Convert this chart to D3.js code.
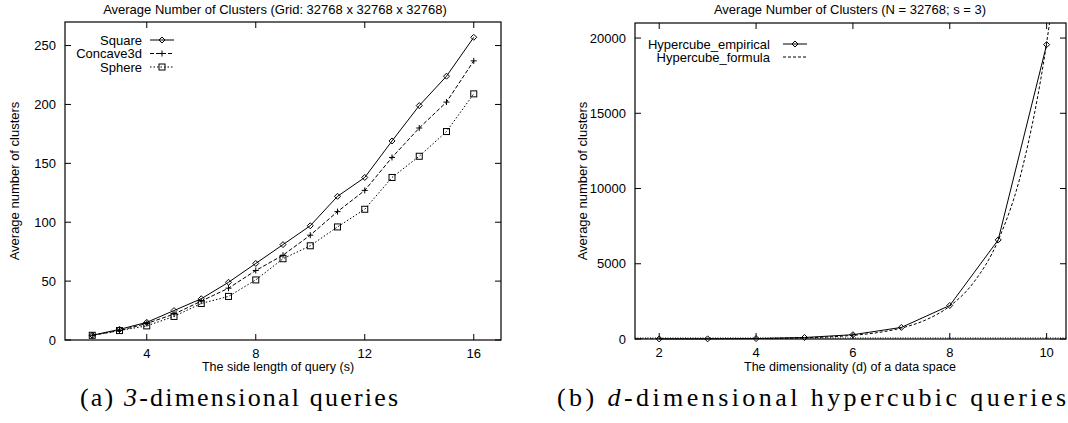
<!DOCTYPE html>
<html><head><meta charset="utf-8">
<script src="https://cdn.jsdelivr.net/npm/d3@7"></script>
<style>
body{margin:0;background:#fff;}
svg{display:block;}
text{font-family:"Liberation Sans",Arial,sans-serif;fill:#000;}
.cap{font-family:"Liberation Serif","DejaVu Serif",serif;}
</style></head>
<body><svg id="c" width="1068" height="423"></svg>
<script>
// ---- data: chart (a) ----
const sideLength = [2,3,4,5,6,7,8,9,10,11,12,13,14,15,16];
const squareVals = [4,9,15,25,35,49,65,81,97,122,138,169,199,224,257];
const concaveVals = [4,8,14,22,33,44,59,72,89,109,127,155,180,202,237];
const sphereVals = [4,8,12,20,31,37,51,69,80,96,111,138,156,177,209];
const xTicksA = [4,8,12,16];
const yTicksA = [0,50,100,150,200,250];
// ---- data: chart (b) ----
const dims = [2,3,4,5,6,7,8,9,10];
const empiricalVals = [4,10,30,100,285,770,2228,6585,19562];
const formulaD = [1.5,2,2.5,3,3.5,4,4.5,5,5.5,6,6.5,7,7.5,8,8.5,9,9.5,10,10.06,10.2];
const formulaVals = [2,3,5,9,16,27,47,81,140,243,421,729,1263,2187,3788,6561,11364,19683,21000,24500];
const xTicksB = [2,4,6,8,10];
const yTicksB = [0,5000,10000,15000,20000];

const svg = d3.select("#c");
const FS = 13;

function frame(g, x, y, xt, yt, tl){
  const [x0,x1] = x.range(), [y1,y0] = y.range();
  g.append("rect").attr("x",x0).attr("y",y0).attr("width",x1-x0).attr("height",y1-y0)
    .attr("fill","none").attr("stroke","#000").attr("stroke-width",1.2);
  xt.forEach(v=>{
    g.append("line").attr("x1",x(v)).attr("x2",x(v)).attr("y1",y1).attr("y2",y1-tl).attr("stroke","#000");
    g.append("line").attr("x1",x(v)).attr("x2",x(v)).attr("y1",y0).attr("y2",y0+tl).attr("stroke","#000");
    g.append("text").attr("x",x(v)).attr("y",y1+18).attr("text-anchor","middle").attr("font-size",FS).text(v);
  });
  yt.forEach(v=>{
    g.append("line").attr("x1",x0).attr("x2",x0+tl).attr("y1",y(v)).attr("y2",y(v)).attr("stroke","#000");
    g.append("line").attr("x1",x1).attr("x2",x1-tl).attr("y1",y(v)).attr("y2",y(v)).attr("stroke","#000");
    g.append("text").attr("x",x0-9).attr("y",y(v)+4.5).attr("text-anchor","end").attr("font-size",FS).text(v);
  });
}
function marker(g, type, cx, cy){
  if(type==="diamond"){
    g.append("path").attr("d",`M${cx},${cy-3}L${cx+3},${cy}L${cx},${cy+3}L${cx-3},${cy}Z`)
      .attr("fill","none").attr("stroke","#000");
  } else if(type==="plus"){
    g.append("path").attr("d",`M${cx-3},${cy}H${cx+3}M${cx},${cy-3}V${cy+3}`).attr("stroke","#000");
  } else if(type==="square"){
    g.append("rect").attr("x",cx-3).attr("y",cy-3).attr("width",6).attr("height",6)
      .attr("fill","none").attr("stroke","#000");
  }
}

// ---------- chart (a) ----------
const xA = d3.scaleLinear().domain([1,17]).range([65,501]);
const yA = d3.scaleLinear().domain([0,270]).range([340,22]);
const gA = svg.append("g");
frame(gA, xA, yA, xTicksA, yTicksA, 6);
const seriesA = [
  {name:"Square", vals:squareVals, dash:null, m:"diamond"},
  {name:"Concave3d", vals:concaveVals, dash:"4,2", m:"plus"},
  {name:"Sphere", vals:sphereVals, dash:"1.5,2", m:"square"}
];
const lineA = d3.line().x((d,i)=>xA(sideLength[i])).y(d=>yA(d));
seriesA.forEach((s,k)=>{
  gA.append("path").attr("d",lineA(s.vals)).attr("fill","none").attr("stroke","#000")
    .attr("stroke-width",1).attr("stroke-dasharray",s.dash);
  s.vals.forEach((v,i)=>marker(gA,s.m,xA(sideLength[i]),yA(v)));
  const ly = 40 + k*13.5;
  gA.append("text").attr("x",142).attr("y",ly+4.5).attr("text-anchor","end").attr("font-size",FS).text(s.name);
  gA.append("line").attr("x1",150).attr("x2",174).attr("y1",ly).attr("y2",ly).attr("stroke","#000")
    .attr("stroke-dasharray",s.dash);
  marker(gA,s.m,162,ly);
});
gA.append("text").attr("x",275).attr("y",14).attr("text-anchor","middle").attr("font-size",FS)
  .text("Average Number of Clusters (Grid: 32768 x 32768 x 32768)");
gA.append("text").attr("x",278).attr("y",371).attr("text-anchor","middle").attr("font-size",12.5)
  .text("The side length of query (s)");
gA.append("text").attr("transform","translate(19,181) rotate(-90)").attr("text-anchor","middle")
  .attr("font-size",FS).text("Average number of clusters");

// ---------- chart (b) ----------
const xB = d3.scaleLinear().domain([1.5,10.4]).range([635,1066]);
const yB = d3.scaleLinear().domain([0,21000]).range([339,23]);
const gB = svg.append("g");
svg.append("clipPath").attr("id","clipB").append("rect").attr("x",635).attr("y",23).attr("width",431).attr("height",316);
frame(gB, xB, yB, xTicksB, yTicksB, 6);
gB.append("line").attr("x1",635).attr("x2",1066).attr("y1",yB(0)-1).attr("y2",yB(0)-1)
  .attr("stroke","#000").attr("stroke-dasharray","1,1.5");
const formulaLine = d3.line().x((d,i)=>xB(formulaD[i])).y(d=>yB(d)).curve(d3.curveMonotoneX);
gB.append("path").attr("clip-path","url(#clipB)").attr("d",formulaLine(formulaVals))
  .attr("fill","none").attr("stroke","#000").attr("stroke-dasharray","3,2");
const empLine = d3.line().x((d,i)=>xB(dims[i])).y(d=>yB(d));
gB.append("path").attr("d",empLine(empiricalVals)).attr("fill","none").attr("stroke","#000");
empiricalVals.forEach((v,i)=>marker(gB,"diamond",xB(dims[i]),yB(v)));
gB.append("text").attr("x",770).attr("y",48.5).attr("text-anchor","end").attr("font-size",FS).text("Hypercube_empirical");
gB.append("line").attr("x1",783).attr("x2",807).attr("y1",44).attr("y2",44).attr("stroke","#000");
marker(gB,"diamond",795,44);
gB.append("text").attr("x",770).attr("y",61.5).attr("text-anchor","end").attr("font-size",FS).text("Hypercube_formula");
gB.append("line").attr("x1",783).attr("x2",807).attr("y1",57).attr("y2",57).attr("stroke","#000").attr("stroke-dasharray","3,2");
gB.append("text").attr("x",850).attr("y",14).attr("text-anchor","middle").attr("font-size",FS)
  .text("Average Number of Clusters (N = 32768; s = 3)");
gB.append("text").attr("x",850).attr("y",371).attr("text-anchor","middle").attr("font-size",12.5)
  .text("The dimensionality (d) of a data space");
gB.append("text").attr("transform","translate(587,181) rotate(-90)").attr("text-anchor","middle")
  .attr("font-size",FS).text("Average number of clusters");

// ---------- captions ----------
const capA = svg.append("text").attr("class","cap").attr("x",80).attr("y",406).attr("font-size",26)
  .attr("textLength",318).attr("lengthAdjust","spacing");
capA.append("tspan").text("(a) ");
capA.append("tspan").attr("font-style","italic").text("3");
capA.append("tspan").text("-dimensional queries");
const capB = svg.append("text").attr("class","cap").attr("x",557).attr("y",406).attr("font-size",26)
  .attr("textLength",509).attr("lengthAdjust","spacing");
capB.append("tspan").text("(b) ");
capB.append("tspan").attr("font-style","italic").text("d");
capB.append("tspan").text("-dimensional hypercubic queries");
</script></body></html>
